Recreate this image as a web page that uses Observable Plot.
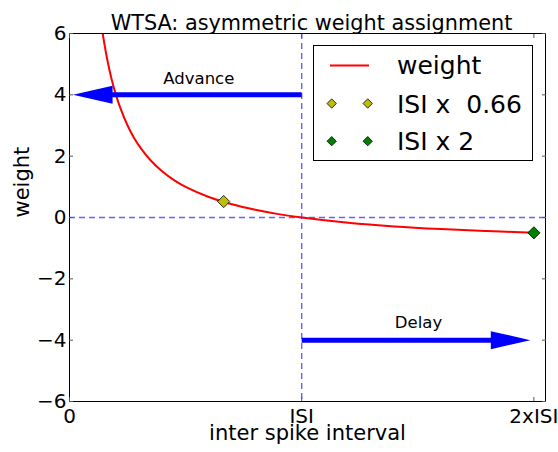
<!DOCTYPE html>
<html>
<head>
<meta charset="utf-8">
<script src="https://cdn.jsdelivr.net/npm/d3@7"></script>
<script src="https://cdn.jsdelivr.net/npm/@observablehq/plot@0.6"></script>
<style>
  html, body { margin: 0; padding: 0; background: #fff; }
  svg { overflow: hidden; }
</style>
</head>
<body>
<div id="chart"></div>
<script>
const title = "WTSA: asymmetric weight assignment";
const xLabel = "inter spike interval";
const yLabel = "weight";
const xTicks = [0, 1, 2];
const xTickLabels = ["0", "ISI", "2xISI"];
const yTicks = [-6, -4, -2, 0, 2, 4, 6];

// weight curve (x in ISI units)
const curveX = [0.143, 0.16, 0.18, 0.2, 0.22, 0.25, 0.28, 0.31, 0.35, 0.4, 0.45, 0.5, 0.6, 0.7, 0.8, 0.9, 1.0, 1.2, 1.4, 1.6, 1.8, 2.0];
const curveW = [6.0, 5.25, 4.55, 4.0, 3.55, 3.0, 2.57, 2.23, 1.86, 1.5, 1.22, 1.0, 0.67, 0.43, 0.25, 0.11, 0.0, -0.17, -0.29, -0.375, -0.44, -0.5];

// highlighted points
const markerNames = ["ISI x  0.66", "ISI x 2"];
const markerX = [0.664, 2.0];
const markerW = [0.52, -0.5];
const markerColors = ["#bfbf00", "#008000"];

// arrows
const arrowNames = ["Advance", "Delay"];
const arrowFrom = [1, 1];
const arrowTo = [0.015, 1.985];
const arrowY = [4, -4];
const arrowLabelX = [0.557, 1.503];
const arrowLabelY = [4.52, -3.43];

// reference lines
const hLines = [0];
const vLines = [1];

const curve = curveX.map((x, i) => ({x, w: curveW[i]}));
const markers = markerNames.map((name, i) => ({name, x: markerX[i], w: markerW[i], color: markerColors[i]}));
const arrows = arrowNames.map((name, i) => ({name, x1: arrowFrom[i], x2: arrowTo[i], y: arrowY[i], lx: arrowLabelX[i], ly: arrowLabelY[i], dir: arrowTo[i] < arrowFrom[i] ? 180 : 0}));

// filled arrowhead symbol with tip at origin, pointing right
const arrowHead = {
  draw(ctx, size) {
    const s = Math.sqrt(size / Math.PI);
    ctx.moveTo(0, 0);
    ctx.lineTo(-4.4 * s, -s);
    ctx.lineTo(-4.4 * s, s);
    ctx.closePath();
  }
};

const font = "DejaVu Sans, Liberation Sans, sans-serif";
const fmtY = d => d < 0 ? "\u2212" + Math.abs(d) : String(d);
const dashColor = "#4848ff";

const svg = Plot.plot({
  width: 558,
  height: 452,
  marginLeft: 69,
  marginRight: 13,
  marginTop: 33,
  marginBottom: 51,
  style: {fontFamily: font, background: "#fff", color: "#000"},
  x: {domain: [0, 2.05]},
  y: {domain: [-6, 6]},
  marks: [
    Plot.ruleY(hLines, {y: d => d, stroke: dashColor, strokeOpacity: 0.85, strokeWidth: 1.4, strokeDasharray: "6,4"}),
    Plot.ruleX(vLines, {x: d => d, stroke: dashColor, strokeOpacity: 0.85, strokeWidth: 1.4, strokeDasharray: "6,4"}),
    Plot.line(curve, {x: "x", y: "w", stroke: "red", strokeWidth: 2, curve: "catmull-rom", clip: true}),
    Plot.arrow(arrows, {x1: "x1", x2: "x2", y1: "y", y2: "y", stroke: "blue", strokeWidth: 5, headLength: 0, insetEnd: 36, strokeLinecap: "butt"}),
    Plot.dot(arrows, {x: "x2", y: "y", symbol: arrowHead, r: 9, fill: "blue", stroke: "none", rotate: "dir"}),
    Plot.dot(markers, {x: "x", y: "w", symbol: "diamond2", r: 5.5, fill: "color", stroke: "#000", strokeWidth: 0.8}),
    Plot.text(arrows, {x: "lx", y: "ly", text: "name", fontSize: 16.5, fill: "#000"}),
    Plot.frame({stroke: "#000", strokeWidth: 1}),
    Plot.axisY({anchor: "left", ticks: yTicks, tickFormat: fmtY, tickSize: -4, tickPadding: 7, fontSize: 20, label: null, stroke: "#555"}),
    Plot.axisY({anchor: "right", ticks: yTicks, tickSize: -4, text: null, label: null, stroke: "#555"}),
    Plot.axisX({anchor: "bottom", ticks: xTicks, tickFormat: d => xTickLabels[xTicks.indexOf(d)], tickSize: -4, tickPadding: 11, fontSize: 20, label: null, stroke: "#555"}),
    Plot.axisX({anchor: "top", ticks: xTicks, tickSize: -4, text: null, label: null, stroke: "#555"}),
    Plot.text([xLabel], {frameAnchor: "bottom", dy: 38, fontSize: 21, fill: "#000"}),
    Plot.text([yLabel], {frameAnchor: "left", rotate: -90, dx: -47, fontSize: 21, fill: "#000"}),
    Plot.text([title], {frameAnchor: "top", dx: 4, dy: -18, fontSize: 20.8, fill: "#000"})
  ]
});

// legend (matplotlib style, upper right)
const g = d3.select(svg).append("g").attr("font-family", font).attr("text-anchor", "start");
g.append("rect").attr("x", 313.5).attr("y", 45.5).attr("width", 219).attr("height", 115)
  .attr("fill", "#fff").attr("stroke", "#000").attr("stroke-width", 1);
g.append("line").attr("x1", 330).attr("x2", 369).attr("y1", 65.5).attr("y2", 65.5)
  .attr("stroke", "red").attr("stroke-width", 2);
g.append("text").attr("x", 397).attr("y", 74).attr("font-size", 25).attr("fill", "#000").text(yLabel);
markers.forEach((m, i) => {
  const cy = 103.5 + i * 37.7;
  [331.7, 367.7].forEach(cx => {
    g.append("path").attr("d", d3.symbol(d3.symbolDiamond2, Math.PI * 4.2 * 4.2)())
      .attr("transform", `translate(${cx},${cy})`)
      .attr("fill", m.color).attr("stroke", "#000").attr("stroke-width", 0.8);
  });
  g.append("text").attr("x", 397).attr("y", cy + 9).attr("font-size", 25).attr("fill", "#000")
    .style("white-space", "pre").attr("xml:space", "preserve").text(m.name);
});

document.getElementById("chart").appendChild(svg);
</script>
</body>
</html>
